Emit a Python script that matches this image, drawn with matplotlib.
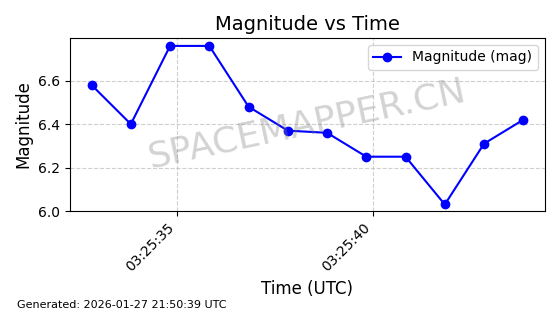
import matplotlib
matplotlib.use("Agg")
import matplotlib.pyplot as plt
import matplotlib.dates as mdates
import pandas as pd

times = ["2026-01-27 03:25:32.83", "2026-01-27 03:25:33.83", "2026-01-27 03:25:34.83",
         "2026-01-27 03:25:35.83", "2026-01-27 03:25:36.83", "2026-01-27 03:25:37.83",
         "2026-01-27 03:25:38.83", "2026-01-27 03:25:39.83", "2026-01-27 03:25:40.83",
         "2026-01-27 03:25:41.83", "2026-01-27 03:25:42.83", "2026-01-27 03:25:43.83"]
magnitudes = [6.58, 6.40, 6.76, 6.76, 6.48, 6.37, 6.36, 6.25, 6.25, 6.03, 6.31, 6.42]
generated = "Generated: 2026-01-27 21:50:39 UTC"

t = pd.to_datetime(times)

fig, ax = plt.subplots(figsize=(5.6, 3.14), dpi=100)
ax.plot(t, magnitudes, '-o', color='blue', markersize=6, lw=1.5, label='Magnitude (mag)')

ax.set_title('Magnitude vs Time', fontsize=14)
ax.set_xlabel('Time (UTC)', fontsize=12)
ax.set_ylabel('Magnitude', fontsize=12)
ax.grid(True, linestyle='--', alpha=0.6)
ax.xaxis.set_major_locator(mdates.SecondLocator(bysecond=range(0, 60, 5)))
ax.xaxis.set_major_formatter(mdates.DateFormatter('%H:%M:%S'))
plt.setp(ax.get_xticklabels(), rotation=45, ha='right')
ax.set_ylim(bottom=6.0)
ax.legend(loc='upper right')

ax.text(0.5, 0.5, 'SPACEMAPPER.CN', transform=ax.transAxes, fontsize=26,
        color='gray', alpha=0.35, ha='center', va='center', rotation=12)

fig.text(0.03, 0.02, generated, fontsize=8)

fig.subplots_adjust(left=0.125, right=0.973, top=0.879, bottom=0.328)
fig.savefig('out.png', dpi=100)
